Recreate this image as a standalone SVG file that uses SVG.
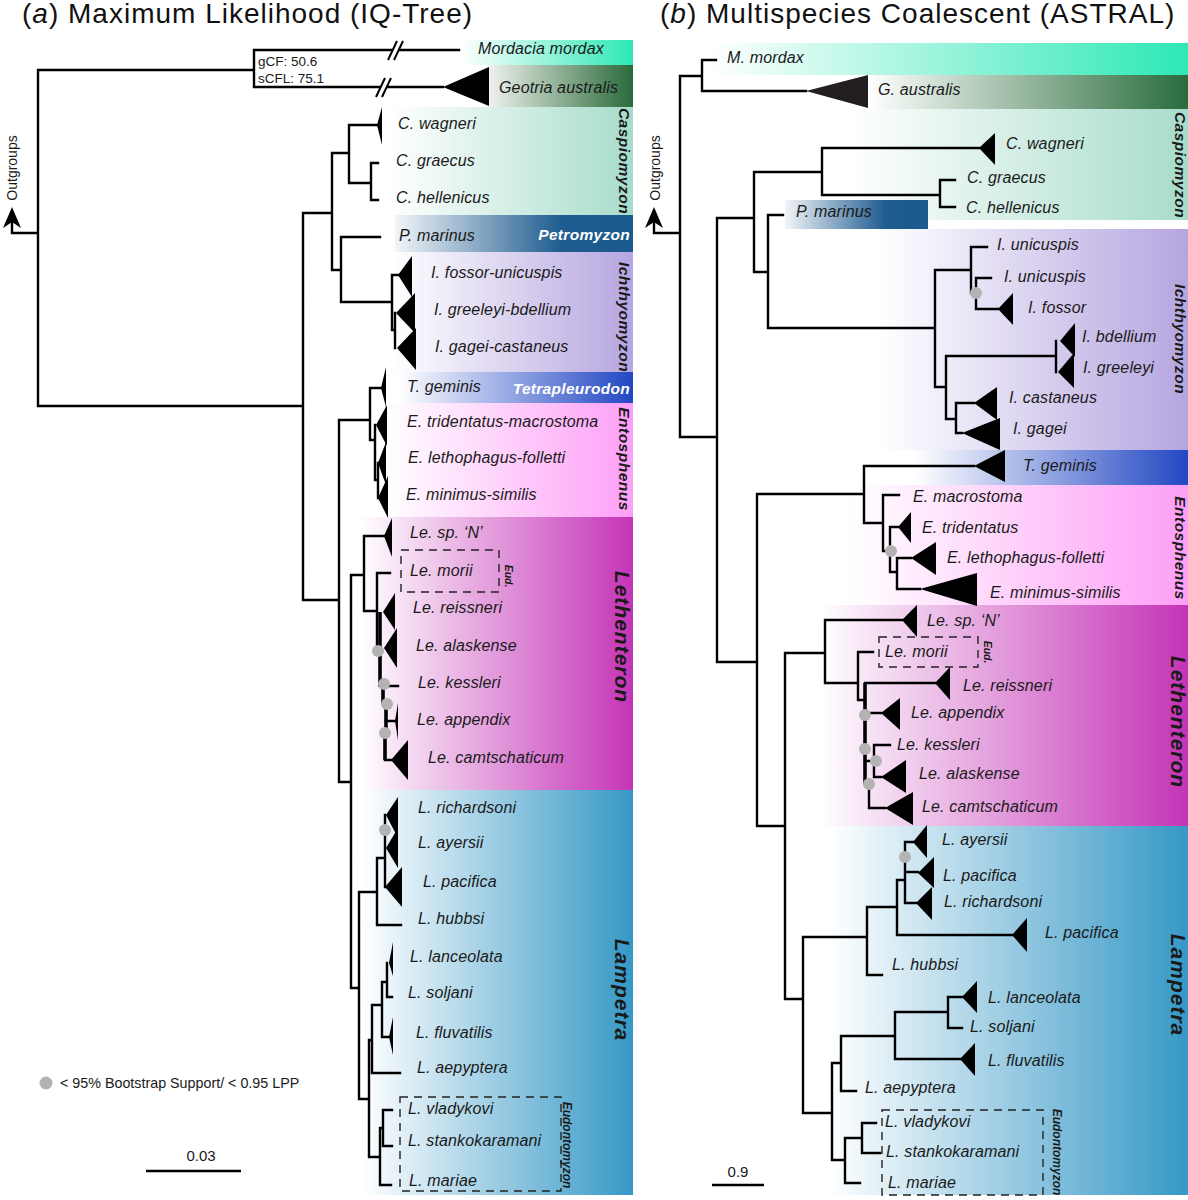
<svg xmlns="http://www.w3.org/2000/svg" width="1188" height="1200" viewBox="0 0 1188 1200">
<defs>
<linearGradient id="gMord"><stop offset="0" stop-color="#ffffff"/><stop offset="1" stop-color="#2de8b5"/></linearGradient>
<linearGradient id="gGeoL"><stop offset="0" stop-color="#eef1ec"/><stop offset="1" stop-color="#2a6a3a"/></linearGradient>
<linearGradient id="gGeoR"><stop offset="0" stop-color="#ffffff"/><stop offset="1" stop-color="#296c3c"/></linearGradient>
<linearGradient id="gCasp"><stop offset="0" stop-color="#ffffff"/><stop offset="1" stop-color="#a7dccb"/></linearGradient>
<linearGradient id="gPetro"><stop offset="0" stop-color="#f2f5f8"/><stop offset="0.7" stop-color="#1f5c90"/><stop offset="1" stop-color="#1b5a8e"/></linearGradient>
<linearGradient id="gIch"><stop offset="0" stop-color="#ffffff"/><stop offset="1" stop-color="#b5a5e0"/></linearGradient>
<linearGradient id="gTetra"><stop offset="0" stop-color="#ffffff"/><stop offset="1" stop-color="#2247c3"/></linearGradient>
<linearGradient id="gEnto"><stop offset="0" stop-color="#ffffff"/><stop offset="1" stop-color="#fd9ff6"/></linearGradient>
<linearGradient id="gLeth"><stop offset="0" stop-color="#ffffff"/><stop offset="1" stop-color="#c434b6"/></linearGradient>
<linearGradient id="gLamp"><stop offset="0" stop-color="#ffffff"/><stop offset="1" stop-color="#3698c6"/></linearGradient>
<style>
.br{stroke:#000;stroke-width:2.4;fill:none;stroke-linecap:square}
.thick{stroke:#000;stroke-width:3.6;fill:none}
.tri{fill:#000}
.dot{fill:#b3b3b3}
.box{fill:none;stroke:#222;stroke-width:1.4;stroke-dasharray:8 6}
.t{font-family:"Liberation Sans",Arial,sans-serif;font-style:italic;font-size:16px;letter-spacing:0.15px;fill:#1a1a1a}
.g{font-family:"Liberation Sans",Arial,sans-serif;font-style:italic;font-weight:bold;font-size:15.5px;letter-spacing:0.5px;fill:#1a1a1a;text-anchor:middle}
.G{font-family:"Liberation Sans",Arial,sans-serif;font-style:italic;font-weight:bold;font-size:21px;letter-spacing:1px;fill:#1a1a1a;text-anchor:middle}
.w{font-family:"Liberation Sans",Arial,sans-serif;font-style:italic;font-weight:bold;font-size:15.5px;letter-spacing:0.3px;fill:#ffffff;text-anchor:end}
.s{font-family:"Liberation Sans",Arial,sans-serif;font-style:italic;font-weight:bold;fill:#1a1a1a;text-anchor:middle}
.title{font-family:"Liberation Sans",Arial,sans-serif;font-size:28px;letter-spacing:1px;fill:#111}
.n{font-family:"Liberation Sans",Arial,sans-serif;fill:#1a1a1a}
</style>
</defs>
<rect width="1188" height="1200" fill="#ffffff"/>

<g id="bands">
<rect x="461" y="40" width="172" height="25" fill="url(#gMord)"/>
<rect x="489" y="65" width="144" height="42" fill="url(#gGeoL)"/>
<rect x="390" y="107" width="243" height="108" fill="url(#gCasp)"/>
<rect x="395" y="215" width="238" height="37" fill="url(#gPetro)"/>
<rect x="393" y="252" width="240" height="120" fill="url(#gIch)"/>
<rect x="398" y="372" width="235" height="31" fill="url(#gTetra)"/>
<rect x="385" y="403" width="248" height="114" fill="url(#gEnto)"/>
<rect x="360" y="517" width="273" height="273" fill="url(#gLeth)"/>
<rect x="362" y="790" width="271" height="405" fill="url(#gLamp)"/>

<rect x="712" y="43" width="476" height="32" fill="url(#gMord)"/>
<rect x="868" y="75" width="320" height="34" fill="url(#gGeoR)"/>
<rect x="850" y="109" width="338" height="111" fill="url(#gCasp)"/>
<rect x="785" y="200" width="143" height="29" fill="url(#gPetro)"/>
<rect x="880" y="229" width="308" height="221" fill="url(#gIch)"/>
<rect x="915" y="450" width="273" height="35" fill="url(#gTetra)"/>
<rect x="850" y="485" width="338" height="120" fill="url(#gEnto)"/>
<rect x="820" y="605" width="368" height="221" fill="url(#gLeth)"/>
<rect x="830" y="826" width="358" height="369" fill="url(#gLamp)"/>
</g>

<g id="titles">
<text class="title" x="22" y="23">(<tspan font-style="italic">a</tspan>) Maximum Likelihood (IQ-Tree)</text>
<text class="title" x="660" y="23">(<tspan font-style="italic">b</tspan>) Multispecies Coalescent (ASTRAL)</text>
</g>

<g id="connectors">
<path class="br" d="M12,222V233H38 M38,70V406 M38,70H254 M254,50V87 M254,50H459 M254,87H443 M38,406H303 M303,213V600 M303,213H332 M332,153V270 M332,153H349 M349,125V183 M349,125H378 M349,183H371 M371,163V200 M371,163H378 M371,200H378 M332,270H341 M341,237V302 M341,237H380 M341,302H392 M392,275V330 M392,275H399 M392,330H395 M395,313V348 M303,600H339 M339,420V782 M339,420H370 M370,388V440 M370,388H381 M370,440H375 M375,425V480 M375,480H378 M378,463V498 M339,782H351 M351,575V988 M351,575H364 M364,536V611 M364,536H385 M364,611H377 M377,573V650 M377,573H390 M377,650H380 M384,686H398 M386,721H396 M385,760H392 M351,988H359 M359,892V1099 M359,892H377 M377,858V925 M377,858H385 M385,815V887 M377,925H401 M359,1099H369 M369,1040V1157 M369,1040H372 M372,1005V1073 M372,1005H382 M382,982V1037 M382,982H387 M387,963V997 M387,997H392 M382,1037H390 M372,1073H400 M369,1157H380 M380,1128V1185 M380,1128H383 M383,1110V1146 M383,1110H392 M383,1146H392 M380,1185H391"/>
<path class="thick" d="M380,612V687 M383,686V705 M386,704V738 M385,733V760"/>
<g stroke="#000" stroke-width="2">
<polygon points="388,60 397,41 403,41 394,60" fill="#fff" stroke="none"/>
<path d="M388,60L397,41 M394,60L403,41"/>
<polygon points="376,97 385,78 391,78 382,97" fill="#fff" stroke="none"/>
<path d="M376,97L385,78 M382,97L391,78"/>
</g>
<path class="br" d="M654,222V233H680 M680,76V437 M680,76H702 M702,60V91 M702,60H716 M702,91H806 M680,437H717 M717,218V662 M717,218H754 M754,172V272 M754,172H822 M822,148V195 M822,148H979 M822,195H940 M940,180V207 M940,180H955 M940,207H955 M754,272H768 M768,215V328 M768,215H783 M768,328H935 M935,270V387 M935,270H971 M971,247V293 M971,247H987 M971,293H976 M976,278V309 M976,278H991 M976,309H998 M935,387H946 M946,356V419 M946,356H1056 M1056,341V372 M946,419H956 M956,403V433 M956,403H974 M956,433H962 M717,662H757 M757,494V826 M757,494H864 M864,466V523 M864,466H974 M864,523H883 M883,495V551 M883,495H899 M883,551H890 M890,527V572 M890,527H898 M890,572H897 M897,558V589 M897,558H911 M897,589H920 M757,826H785 M785,653V999 M785,653H825 M825,620V683 M825,620H902 M825,683H858 M858,652V700 M858,652H873 M858,700H865 M865,683H935 M865,713H881 M865,761H874 M874,745V777 M874,745H890 M874,777H881 M865,784H869 M869,784V808 M869,808H885 M785,999H803 M803,937V1113 M803,937H867 M867,907V975 M867,907H897 M897,880V935 M897,880H905 M905,842V903 M905,842H913 M905,872H918 M905,903H916 M897,935H1012 M867,975H882 M803,1113H832 M832,1063V1160 M832,1063H841 M841,1036V1091 M841,1036H895 M895,1012V1059 M895,1012H948 M948,997V1028 M948,997H962 M948,1028H962 M895,1059H960 M841,1091H856 M832,1160H845 M845,1138V1183 M845,1138H862 M862,1123V1153 M862,1123H876 M862,1153H880 M845,1183H860"/>
<path class="thick" d="M865,683V784"/>
</g>

<g id="outgroups-a">
<polygon class="tri" points="3,228 12,207 21,228 12,222"/>
<text class="n" font-size="14" transform="translate(17,168) rotate(-90)" text-anchor="middle">Outgroups</text>
</g>
<g id="outgroups-b">
<polygon class="tri" points="645,228 654,207 663,228 654,222"/>
<text class="n" font-size="14" transform="translate(660,168) rotate(-90)" text-anchor="middle">Outgroups</text>
</g>

<g id="gcf-label">
<text class="n" font-size="13.5" x="258" y="66">gCF: 50.6</text>
<text class="n" font-size="13.5" x="258" y="83">sCFL: 75.1</text>
</g>

<!-- Panel a nodes -->
<g id="a-mordacia"><text class="t" x="478" y="54">Mordacia mordax</text></g>
<g id="a-geotria"><polygon class="tri" points="443,87 489,67 489,106"/><text class="t" x="499" y="93">Geotria australis</text></g>
<g id="a-c-wagneri"><polygon class="tri" points="377,125 382,107 382,145"/><text class="t" x="398" y="129">C. wagneri</text></g>
<g id="a-c-graecus"><text class="t" x="396" y="166">C. graecus</text></g>
<g id="a-c-hellenicus"><text class="t" x="396" y="203">C. hellenicus</text></g>
<g id="a-p-marinus"><text class="t" x="399" y="241">P. marinus</text></g>
<g id="a-i-fossor"><polygon class="tri" points="398,275 412,256 412,297"/><text class="t" x="431" y="278">I. fossor-unicuspis</text></g>
<g id="a-i-greeleyi"><polygon class="tri" points="396,313 415,293 415,333"/><text class="t" x="434" y="315">I. greeleyi-bdellium</text></g>
<g id="a-i-gagei"><polygon class="tri" points="397,348 416,328 416,370"/><text class="t" x="435" y="352">I. gagei-castaneus</text></g>
<g id="a-t-geminis"><polygon class="tri" points="381,388 386,367 386,407"/><text class="t" x="407" y="392">T. geminis</text></g>
<g id="a-e-tridentatus"><polygon class="tri" points="376,425 387,405 387,446"/><text class="t" x="407" y="427">E. tridentatus-macrostoma</text></g>
<g id="a-e-lethophagus"><polygon class="tri" points="378,463 386,442 386,485"/><text class="t" x="408" y="463">E. lethophagus-folletti</text></g>
<g id="a-e-minimus"><polygon class="tri" points="378,498 388,476 388,518"/><text class="t" x="406" y="500">E. minimus-similis</text></g>
<g id="a-le-sp-n"><polygon class="tri" points="384,536 392,518 392,557"/><text class="t" x="410" y="538">Le. sp. ‘N’</text></g>
<g id="a-le-morii"><rect class="box" x="401" y="550" width="98" height="42"/><text class="t" x="410" y="576">Le. morii</text><text class="s" font-size="10.5" transform="translate(505,576) rotate(90)">Eud.</text></g>
<g id="a-le-reissneri"><polygon class="tri" points="383,612 395,593 395,630"/><text class="t" x="413" y="613">Le. reissneri</text></g>
<g id="a-le-alaskense"><polygon class="tri" points="384,648 397,628 397,668"/><text class="t" x="416" y="651">Le. alaskense</text></g>
<g id="a-le-kessleri"><text class="t" x="418" y="688">Le. kessleri</text></g>
<g id="a-le-appendix"><polygon class="tri" points="395,721 398,703 398,740"/><text class="t" x="417" y="725">Le. appendix</text></g>
<g id="a-le-camtschaticum"><polygon class="tri" points="391,760 408,740 408,780"/><text class="t" x="428" y="763">Le. camtschaticum</text></g>
<g id="a-l-richardsoni"><polygon class="tri" points="386,815 398,797 398,838"/><text class="t" x="418" y="813">L. richardsoni</text></g>
<g id="a-l-ayersii"><polygon class="tri" points="386,848 398,828 398,868"/><text class="t" x="418" y="848">L. ayersii</text></g>
<g id="a-l-pacifica"><polygon class="tri" points="385,887 402,867 402,907"/><text class="t" x="423" y="887">L. pacifica</text></g>
<g id="a-l-hubbsi"><text class="t" x="418" y="924">L. hubbsi</text></g>
<g id="a-l-lanceolata"><polygon class="tri" points="389,963 393,942 393,976"/><text class="t" x="410" y="962">L. lanceolata</text></g>
<g id="a-l-soljani"><text class="t" x="408" y="998">L. soljani</text></g>
<g id="a-l-fluvatilis"><polygon class="tri" points="389,1037 393,1017 393,1055"/><text class="t" x="416" y="1038">L. fluvatilis</text></g>
<g id="a-l-aepyptera"><text class="t" x="417" y="1073">L. aepyptera</text></g>
<g id="a-eudontomyzon"><rect class="box" x="400" y="1097" width="161" height="94"/><text class="s" font-size="12" transform="translate(563,1145) rotate(90)">Eudontomyzon</text></g>
<g id="a-l-vladykovi"><text class="t" x="408" y="1114">L. vladykovi</text></g>
<g id="a-l-stankokaramani"><text class="t" x="408" y="1146">L. stankokaramani</text></g>
<g id="a-l-mariae"><text class="t" x="409" y="1186">L. mariae</text></g>

<g id="a-genus-labels">
<text class="g" transform="translate(619,161) rotate(90)">Caspiomyzon</text>
<text class="w" x="630" y="240">Petromyzon</text>
<text class="g" transform="translate(619,317) rotate(90)">Ichthyomyzon</text>
<text class="w" x="630" y="394">Tetrapleurodon</text>
<text class="g" transform="translate(619,459) rotate(90)">Entosphenus</text>
<text class="G" transform="translate(615,637) rotate(90)">Lethenteron</text>
<text class="G" transform="translate(615,990) rotate(90)">Lampetra</text>
</g>

<g id="a-dots">
<circle class="dot" cx="378" cy="651" r="6"/>
<circle class="dot" cx="384" cy="684" r="6"/>
<circle class="dot" cx="387" cy="704" r="6"/>
<circle class="dot" cx="385" cy="733" r="6"/>
<circle class="dot" cx="385" cy="830" r="6"/>
</g>

<g id="legend">
<circle class="dot" cx="46" cy="1083" r="6.5"/>
<text class="n" font-size="14.3" x="60" y="1088">&lt; 95% Bootstrap Support/ &lt; 0.95 LPP</text>
</g>
<g id="scale-a">
<text class="n" font-size="15" x="201" y="1161" text-anchor="middle">0.03</text>
<path d="M146,1171H241" stroke="#000" stroke-width="2.5"/>
</g>

<!-- Panel b nodes -->
<g id="b-m-mordax"><text class="t" x="727" y="63">M. mordax</text></g>
<g id="b-g-australis"><polygon points="806,91 868,75 868,108" fill="#231f20"/><text class="t" x="878" y="95">G. australis</text></g>
<g id="b-c-wagneri"><polygon class="tri" points="979,148 995,133 995,165"/><text class="t" x="1006" y="149">C. wagneri</text></g>
<g id="b-c-graecus"><text class="t" x="967" y="183">C. graecus</text></g>
<g id="b-c-hellenicus"><text class="t" x="966" y="213">C. hellenicus</text></g>
<g id="b-p-marinus"><text class="t" x="796" y="217">P. marinus</text></g>
<g id="b-i-unicuspis1"><text class="t" x="997" y="250">I. unicuspis</text></g>
<g id="b-i-unicuspis2"><text class="t" x="1004" y="282">I. unicuspis</text></g>
<g id="b-i-fossor"><polygon class="tri" points="998,309 1013,293 1013,325"/><text class="t" x="1028" y="313">I. fossor</text></g>
<g id="b-i-bdellium"><polygon class="tri" points="1060,341 1075,323 1075,357"/><text class="t" x="1082" y="342">I. bdellium</text></g>
<g id="b-i-greeleyi"><polygon class="tri" points="1058,372 1074,353 1074,388"/><text class="t" x="1083" y="373">I. greeleyi</text></g>
<g id="b-i-castaneus"><polygon class="tri" points="974,403 997,387 997,420"/><text class="t" x="1009" y="403">I. castaneus</text></g>
<g id="b-i-gagei"><polygon class="tri" points="962,433 1000,418 1000,450"/><text class="t" x="1013" y="434">I. gagei</text></g>
<g id="b-t-geminis"><polygon class="tri" points="974,466 1005,450 1005,482"/><text class="t" x="1023" y="471">T. geminis</text></g>
<g id="b-e-macrostoma"><text class="t" x="913" y="502">E. macrostoma</text></g>
<g id="b-e-tridentatus"><polygon class="tri" points="898,527 911,512 911,543"/><text class="t" x="922" y="533">E. tridentatus</text></g>
<g id="b-e-lethophagus"><polygon class="tri" points="911,558 936,542 936,575"/><text class="t" x="947" y="563">E. lethophagus-folletti</text></g>
<g id="b-e-minimus"><polygon class="tri" points="920,589 977,573 977,606"/><text class="t" x="990" y="598">E. minimus-similis</text></g>
<g id="b-le-sp-n"><polygon class="tri" points="902,620 917,605 917,637"/><text class="t" x="927" y="626">Le. sp. ‘N’</text></g>
<g id="b-le-morii"><rect class="box" x="879" y="637" width="99" height="30"/><text class="t" x="885" y="657">Le. morii</text><text class="s" font-size="10.5" transform="translate(984,652) rotate(90)">Eud.</text></g>
<g id="b-le-reissneri"><polygon class="tri" points="935,683 950,667 950,700"/><text class="t" x="963" y="691">Le. reissneri</text></g>
<g id="b-le-appendix"><polygon class="tri" points="881,713 900,698 900,730"/><text class="t" x="911" y="718">Le. appendix</text></g>
<g id="b-le-kessleri"><text class="t" x="897" y="750">Le. kessleri</text></g>
<g id="b-le-alaskense"><polygon class="tri" points="881,777 906,760 906,793"/><text class="t" x="919" y="779">Le. alaskense</text></g>
<g id="b-le-camtschaticum"><polygon class="tri" points="885,808 913,792 913,825"/><text class="t" x="922" y="812">Le. camtschaticum</text></g>
<g id="b-l-ayersii"><polygon class="tri" points="913,842 927,825 927,858"/><text class="t" x="942" y="845">L. ayersii</text></g>
<g id="b-l-pacifica1"><polygon class="tri" points="918,873 934,857 934,888"/><text class="t" x="943" y="881">L. pacifica</text></g>
<g id="b-l-richardsoni"><polygon class="tri" points="916,903 932,887 932,920"/><text class="t" x="944" y="907">L. richardsoni</text></g>
<g id="b-l-pacifica2"><polygon class="tri" points="1012,935 1027,918 1027,952"/><text class="t" x="1045" y="938">L. pacifica</text></g>
<g id="b-l-hubbsi"><text class="t" x="892" y="970">L. hubbsi</text></g>
<g id="b-l-lanceolata"><polygon class="tri" points="962,997 977,981 977,1013"/><text class="t" x="988" y="1003">L. lanceolata</text></g>
<g id="b-l-soljani"><text class="t" x="970" y="1032">L. soljani</text></g>
<g id="b-l-fluvatilis"><polygon class="tri" points="960,1059 975,1043 975,1076"/><text class="t" x="988" y="1066">L. fluvatilis</text></g>
<g id="b-l-aepyptera"><text class="t" x="865" y="1093">L. aepyptera</text></g>
<g id="b-eudontomyzon"><rect class="box" x="882" y="1110" width="161" height="85"/><text class="s" font-size="12" transform="translate(1053,1152) rotate(90)">Eudontomyzon</text></g>
<g id="b-l-vladykovi"><text class="t" x="885" y="1127">L. vladykovi</text></g>
<g id="b-l-stankokaramani"><text class="t" x="886" y="1157">L. stankokaramani</text></g>
<g id="b-l-mariae"><text class="t" x="888" y="1188">L. mariae</text></g>

<g id="b-genus-labels">
<text class="g" transform="translate(1175,165) rotate(90)">Caspiomyzon</text>
<text class="g" transform="translate(1175,339) rotate(90)">Ichthyomyzon</text>
<text class="g" transform="translate(1175,548) rotate(90)">Entosphenus</text>
<text class="G" transform="translate(1171,722) rotate(90)">Lethenteron</text>
<text class="G" transform="translate(1171,985) rotate(90)">Lampetra</text>
</g>

<g id="b-dots">
<circle class="dot" cx="976" cy="293" r="6"/>
<circle class="dot" cx="891" cy="551" r="6"/>
<circle class="dot" cx="865" cy="715" r="6"/>
<circle class="dot" cx="865" cy="749" r="6"/>
<circle class="dot" cx="876" cy="761" r="6"/>
<circle class="dot" cx="869" cy="784" r="6"/>
<circle class="dot" cx="905" cy="857" r="6"/>
</g>

<g id="scale-b">
<text class="n" font-size="15" x="738" y="1177" text-anchor="middle">0.9</text>
<path d="M712,1185H764" stroke="#000" stroke-width="2.5"/>
</g>
</svg>
